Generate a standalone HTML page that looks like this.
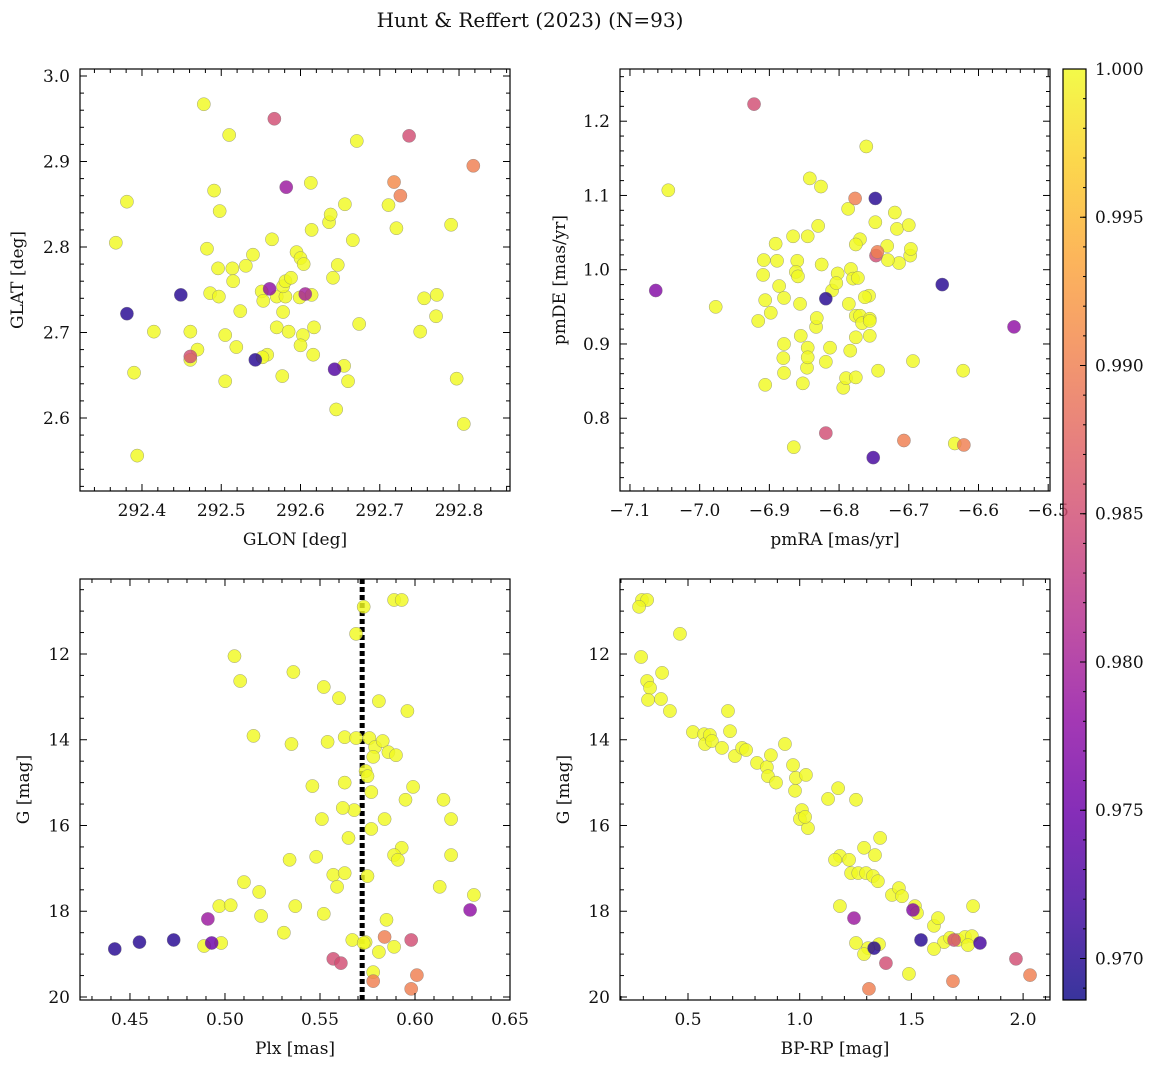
<!DOCTYPE html>
<html><head><meta charset="utf-8">
<style>
html,body{margin:0;padding:0;background:#fff;}
svg text{font-family:"DejaVu Serif","Liberation Serif",serif;fill:#111;}
</style></head>
<body>
<svg id="fig" width="1161" height="1068" viewBox="0 0 1161 1068" xmlns="http://www.w3.org/2000/svg">
<text x="530" y="27" font-size="20" text-anchor="middle">Hunt &amp; Reffert (2023) (N=93)</text>
</svg>
<script>
// ---- Panel 1: GLON vs GLAT ----
const p1GLON=[292.367,292.381,292.415,292.390,292.394,292.478,292.510,292.491,292.498,292.482,292.496,292.514,292.515,292.486,292.497,292.540,292.531,292.564,292.524,292.505,292.519,292.505,292.470,292.461,292.461,292.551,292.553,292.570,292.581,292.578,292.581,292.588,292.595,292.600,292.604,292.599,292.614,292.570,292.585,292.578,292.603,292.600,292.617,292.616,292.558,292.552,292.577,292.613,292.614,292.636,292.638,292.656,292.666,292.647,292.641,292.655,292.660,292.645,292.674,292.671,292.711,292.721,292.751,292.756,292.772,292.771,292.790,292.797,292.806,
292.567,292.737,292.818,292.718,292.726,292.582,292.381,292.449,292.543,292.643,292.606,292.561,292.461];
const p1GLAT=[2.805,2.853,2.701,2.653,2.556,2.967,2.931,2.866,2.842,2.798,2.775,2.775,2.760,2.746,2.742,2.791,2.778,2.809,2.725,2.697,2.683,2.643,2.680,2.701,2.668,2.748,2.737,2.742,2.742,2.754,2.760,2.764,2.794,2.787,2.780,2.741,2.744,2.706,2.701,2.724,2.697,2.685,2.706,2.674,2.674,2.671,2.649,2.875,2.820,2.829,2.838,2.850,2.808,2.779,2.764,2.661,2.643,2.610,2.710,2.924,2.849,2.822,2.701,2.740,2.744,2.719,2.826,2.646,2.593,
2.950,2.930,2.895,2.876,2.860,2.870,2.722,2.744,2.668,2.657,2.745,2.751,2.672];
const p1Prob=[1,1,1,1,1,1,1,1,1,1,1,1,1,1,1,1,1,1,1,1,1,1,1,1,1,1,1,1,1,1,1,1,1,1,1,1,1,1,1,1,1,1,1,1,1,1,1,1,1,1,1,1,1,1,1,1,1,1,1,1,1,1,1,1,1,1,1,1,1,
0.985,0.985,0.990,0.991,0.990,0.979,0.970,0.970,0.970,0.973,0.980,0.978,0.985];

// ---- Panel 2: pmRA vs pmDE ----
const p2pmRA=[-7.045,-6.977,-6.908,-6.891,-6.845,-6.826,-6.842,-6.830,-6.866,-6.860,-6.889,-6.909,-6.886,-6.862,-6.859,-6.856,-6.906,-6.916,-6.898,-6.879,-6.880,-6.879,-6.855,-6.845,-6.846,-6.852,-6.833,-6.832,-6.845,-6.825,-6.810,-6.802,-6.804,-6.783,-6.780,-6.773,-6.819,-6.813,-6.794,-6.776,-6.770,-6.767,-6.776,-6.756,-6.784,-6.790,-6.776,-6.770,-6.776,-6.787,-6.761,-6.748,-6.720,-6.717,-6.714,-6.731,-6.730,-6.698,-6.700,-6.697,-6.757,-6.756,-6.756,-6.744,-6.694,-6.634,-6.622,-6.865,-6.906,-6.879,-6.763,-6.786,
-6.922,-7.063,-6.748,-6.777,-6.747,-6.745,-6.819,-6.652,-6.549,-6.819,-6.751,-6.707,-6.621];
const p2pmDE=[1.107,0.950,1.013,1.035,1.045,1.112,1.123,1.059,1.045,1.012,1.012,0.993,0.978,0.997,0.991,0.954,0.959,0.931,0.942,0.900,0.881,0.861,0.911,0.895,0.868,0.847,0.923,0.935,0.882,1.007,0.972,0.995,0.982,1.001,0.988,0.989,0.876,0.895,0.841,0.938,0.938,0.928,0.909,0.934,0.891,0.854,0.855,1.041,1.034,1.082,1.166,1.064,1.077,1.055,1.009,1.032,1.013,1.019,1.060,1.028,0.965,0.911,0.931,0.864,0.877,0.766,0.864,0.761,0.845,0.962,0.963,0.954,
1.223,0.972,1.096,1.096,1.019,1.024,0.961,0.980,0.923,0.780,0.747,0.770,0.764];
const p2Prob=[1,1,1,1,1,1,1,1,1,1,1,1,1,1,1,1,1,1,1,1,1,1,1,1,1,1,1,1,1,1,1,1,1,1,1,1,1,1,1,1,1,1,1,1,1,1,1,1,1,1,1,1,1,1,1,1,1,1,1,1,1,1,1,1,1,1,1,1,1,1,1,1,
0.985,0.977,0.970,0.990,0.985,0.990,0.970,0.970,0.978,0.985,0.972,0.990,0.990];

// ---- Panel 3: Plx vs G ----
const p3Plx=[0.573,0.589,0.593,0.569,0.505,0.508,0.536,0.552,0.560,0.581,0.596,0.515,0.535,0.554,0.563,0.569,0.576,0.579,0.583,0.586,0.590,0.578,0.574,0.575,0.577,0.563,0.546,0.595,0.599,0.615,0.568,0.562,0.551,0.565,0.577,0.584,0.593,0.589,0.591,0.619,0.619,0.534,0.548,0.557,0.559,0.563,0.575,0.613,0.631,0.510,0.518,0.497,0.503,0.537,0.552,0.519,0.585,0.531,0.567,0.574,0.589,0.489,0.498,0.581,0.578,0.573,
0.442,0.455,0.473,0.491,0.493,0.557,0.561,0.584,0.578,0.598,0.601,0.598,0.629];
const p3G=[10.90,10.74,10.74,11.53,12.05,12.63,12.42,12.77,13.03,13.10,13.33,13.91,14.10,14.05,13.94,13.96,13.96,14.17,14.03,14.29,14.36,14.40,14.73,14.85,15.22,15.00,15.08,15.40,15.10,15.40,15.64,15.59,15.85,16.29,16.08,15.85,16.52,16.69,16.80,15.85,16.69,16.80,16.73,17.15,17.43,17.11,17.18,17.43,17.62,17.32,17.55,17.88,17.86,17.88,18.06,18.11,18.20,18.50,18.67,18.72,18.83,18.81,18.74,18.95,19.42,18.74,
18.88,18.72,18.67,18.18,18.74,19.11,19.21,18.60,19.63,18.67,19.49,19.81,17.97];
const p3Prob=[1,1,1,1,1,1,1,1,1,1,1,1,1,1,1,1,1,1,1,1,1,1,1,1,1,1,1,1,1,1,1,1,1,1,1,1,1,1,1,1,1,1,1,1,1,1,1,1,1,1,1,1,1,1,1,1,1,1,1,1,1,1,1,1,1,1,
0.970,0.970,0.970,0.979,0.975,0.985,0.985,0.990,0.990,0.985,0.990,0.990,0.978];
const p3PlxRef=0.5722;

// ---- Panel 4: BP-RP vs G ----
const p4BPRP=[0.294,0.317,0.281,0.290,0.317,0.330,0.321,0.384,0.419,0.379,0.464,0.522,0.572,0.576,0.598,0.607,0.652,0.679,0.688,0.710,0.742,0.760,0.809,0.853,0.858,0.871,0.894,0.934,0.970,0.983,0.979,1.028,1.010,1.001,1.037,1.024,1.127,1.172,1.252,1.180,1.221,1.158,1.230,1.262,1.297,1.328,1.350,1.288,1.337,1.360,1.180,1.413,1.444,1.458,1.516,1.525,1.601,1.619,1.646,1.673,1.709,1.740,1.771,1.753,1.776,1.252,1.355,1.306,1.288,1.489,1.601,
1.243,1.507,1.543,1.691,1.807,1.333,1.386,1.968,2.031,1.686,1.310];
const p4G=[10.74,10.74,10.90,12.07,12.63,12.79,13.07,12.44,13.33,13.05,11.53,13.82,13.87,14.10,13.89,14.03,14.19,13.33,13.80,14.38,14.19,14.24,14.54,14.64,14.85,14.36,15.00,14.10,14.59,14.89,15.19,14.82,15.64,15.85,16.06,15.80,15.38,15.13,15.40,16.71,16.80,16.80,17.11,17.11,17.11,17.18,17.30,16.52,16.69,16.29,17.88,17.62,17.46,17.65,17.88,18.04,18.34,18.16,18.72,18.62,18.67,18.60,18.58,18.79,17.88,18.74,18.77,18.86,19.00,19.46,18.88,
18.16,17.97,18.67,18.67,18.74,18.86,19.21,19.11,19.49,19.63,19.81];
const p4Prob=[1,1,1,1,1,1,1,1,1,1,1,1,1,1,1,1,1,1,1,1,1,1,1,1,1,1,1,1,1,1,1,1,1,1,1,1,1,1,1,1,1,1,1,1,1,1,1,1,1,1,1,1,1,1,1,1,1,1,1,1,1,1,1,1,1,1,1,1,1,1,1,
0.979,0.977,0.970,0.985,0.972,0.970,0.985,0.985,0.990,0.990,0.990];

const cbTicks=[0.970,0.975,0.980,0.985,0.990,0.995,1.000];
const cMin=0.9686, cMax=1.0;

const NS='http://www.w3.org/2000/svg';
const fig=document.getElementById('fig');
function mk(tag,attrs,parent){const e=document.createElementNS(NS,tag);for(const k in attrs)e.setAttribute(k,attrs[k]);(parent||fig).appendChild(e);return e;}
const plasma=[[13,8,135],[65,4,157],[106,0,168],[143,13,164],[177,42,144],[204,71,120],[225,100,98],[242,132,75],[252,166,54],[252,206,37],[240,249,33]];
function cmap(v){let t=(v-cMin)/(cMax-cMin);t=Math.max(0,Math.min(1,t))*10;const i=Math.min(9,Math.floor(t)),f=t-i;const a=plasma[i],b=plasma[i+1];return 'rgb('+a.map((c,k)=>Math.round(c+(b[k]-c)*f)).join(',')+')';}
function fmt(v,d){let s=v.toFixed(d);return s.replace('-','\u2212');}

function panel(cfg,xs,ys,ps){
  const {x0,x1,y0,y1,xmin,xmax,ymin,ymax,inv}=cfg;
  const sx=v=>x0+(v-xmin)/(xmax-xmin)*(x1-x0);
  const sy=inv? v=>y0+(v-ymin)/(ymax-ymin)*(y1-y0) : v=>y1-(v-ymin)/(ymax-ymin)*(y1-y0);
  const g=mk('g',{});
  
  
  mk('rect',{x:x0,y:y0,width:x1-x0,height:y1-y0,fill:'#fff',stroke:'none'},g);
  if(cfg.vline!==undefined){
    const l=mk('line',{x1:sx(cfg.vline),x2:sx(cfg.vline),y1:y0,y2:y1,stroke:'#000','stroke-width':5,'stroke-dasharray':'5,3'},g);
    
    
  }
  xs.forEach((v,i)=>{
    const c=mk('circle',{cx:sx(v),cy:sy(ys[i]),r:6.6,fill:cmap(ps[i]),'fill-opacity':0.82,stroke:'#777','stroke-width':0.5,'stroke-opacity':0.7},g);
    
    
  });
  mk('rect',{x:x0,y:y0,width:x1-x0,height:y1-y0,fill:'none',stroke:'#000','stroke-width':1.2},g);
  const eps=1e-9;
  for(let v=Math.ceil(xmin/cfg.xminor-eps)*cfg.xminor;v<=xmax+eps;v+=cfg.xminor){
    const px=sx(v);const maj=Math.abs(v/cfg.xmajor-Math.round(v/cfg.xmajor))<1e-6;const L=maj?7:4;
    mk('line',{x1:px,x2:px,y1:y1,y2:y1-L,stroke:'#000','stroke-width':1},g);
    mk('line',{x1:px,x2:px,y1:y0,y2:y0+L,stroke:'#000','stroke-width':1},g);
    if(maj){const t=mk('text',{x:px,y:y1+25,'font-size':17,'text-anchor':'middle'},g);t.textContent=fmt(Math.round(v/cfg.xmajor)*cfg.xmajor,cfg.xd);}
  }
  for(let v=Math.ceil(ymin/cfg.yminor-eps)*cfg.yminor;v<=ymax+eps;v+=cfg.yminor){
    const py=sy(v);const maj=Math.abs(v/cfg.ymajor-Math.round(v/cfg.ymajor))<1e-6;const L=maj?7:4;
    mk('line',{x1:x0,x2:x0+L,y1:py,y2:py,stroke:'#000','stroke-width':1},g);
    mk('line',{x1:x1,x2:x1-L,y1:py,y2:py,stroke:'#000','stroke-width':1},g);
    if(maj){const t=mk('text',{x:x0-10,y:py+6,'font-size':17,'text-anchor':'end'},g);t.textContent=fmt(Math.round(v/cfg.ymajor)*cfg.ymajor,cfg.yd);}
  }
  const xl=mk('text',{x:(x0+x1)/2,y:y1+54,'font-size':17,'text-anchor':'middle'},g);xl.textContent=cfg.xlabel;
  
  
  const yx=cfg.ylx, yc=(y0+y1)/2;
  const yl=mk('text',{x:yx,y:yc,'font-size':17,'text-anchor':'middle',transform:'rotate(-90 '+yx+' '+yc+')'},g);yl.textContent=cfg.ylabel;
  
  
}

panel({name:'glon-glat-panel',x0:80,x1:510,y0:69,y1:491,xmin:292.3218,xmax:292.8643,ymin:2.5146,ymax:3.0082,xmajor:0.1,xminor:0.02,ymajor:0.1,yminor:0.02,xd:1,yd:1,xlabel:'GLON [deg]',ylabel:'GLAT [deg]',ylx:23},p1GLON,p1GLAT,p1Prob);
panel({name:'pmra-pmde-panel',x0:620,x1:1050,y0:69,y1:491,xmin:-7.1143,xmax:-6.4974,ymin:0.702,ymax:1.2703,xmajor:0.1,xminor:0.02,ymajor:0.1,yminor:0.02,xd:1,yd:1,xlabel:'pmRA [mas/yr]',ylabel:'pmDE [mas/yr]',ylx:565},p2pmRA,p2pmDE,p2Prob);
panel({name:'plx-g-panel',x0:80,x1:510,y0:579,y1:1000,xmin:0.4237,xmax:0.65,ymin:10.251,ymax:20.07,inv:true,xmajor:0.05,xminor:0.01,ymajor:2,yminor:0.5,xd:2,yd:0,xlabel:'Plx [mas]',ylabel:'G [mag]',ylx:29,vline:p3PlxRef},p3Plx,p3G,p3Prob);
panel({name:'cmd-panel',x0:620,x1:1050,y0:579,y1:1000,xmin:0.1956,xmax:2.1204,ymin:10.251,ymax:20.07,inv:true,xmajor:0.5,xminor:0.1,ymajor:2,yminor:0.5,xd:1,yd:0,xlabel:'BP-RP [mag]',ylabel:'G [mag]',ylx:569},p4BPRP,p4G,p4Prob);

const cb=mk('g',{});


const defs=mk('defs',{},cb);
const lg=mk('linearGradient',{id:'pl',x1:0,y1:1,x2:0,y2:0},defs);
plasma.forEach((c,i)=>mk('stop',{offset:(i/10),'stop-color':'rgb('+c.join(',')+')','stop-opacity':0.82},lg));
const cx0=1063,cx1=1086,cy0=69,cy1=1000;
mk('rect',{x:cx0,y:cy0,width:cx1-cx0,height:cy1-cy0,fill:'url(#pl)'},cb);
mk('rect',{x:cx0,y:cy0,width:cx1-cx0,height:cy1-cy0,fill:'none',stroke:'#000','stroke-width':1.2},cb);
const cy=v=>cy1-(v-cMin)/(cMax-cMin)*(cy1-cy0);
for(let v=0.969;v<=1.0001;v+=0.001){const y=cy(v);mk('line',{x1:cx1,x2:cx1-3,y1:y,y2:y,stroke:'#000','stroke-width':1},cb);}
cbTicks.forEach(v=>{const y=cy(v);mk('line',{x1:cx1,x2:cx1-6,y1:y,y2:y,stroke:'#000','stroke-width':1},cb);
  const t=mk('text',{x:cx1+9,y:y+6,'font-size':17},cb);t.textContent=v.toFixed(3);
  
  });
</script>
</body></html>
